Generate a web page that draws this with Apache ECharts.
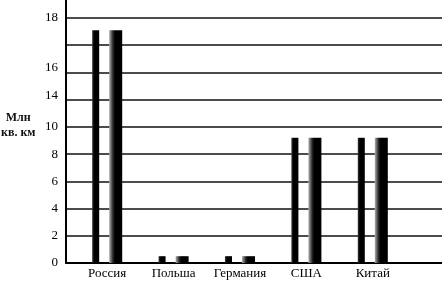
<!DOCTYPE html>
<html><head><meta charset="utf-8">
<script src="https://cdn.jsdelivr.net/npm/echarts@6/dist/echarts.min.js"></script>
<style>html,body{margin:0;padding:0;background:#fff}#c{width:442px;height:282px}</style>
</head><body><div id="c"></div>
<script>
var categories = ['Россия', 'Польша', 'Германия', 'США', 'Китай'];
// bar heights read on the drawn (equally spaced) axis scale
var valuesLeft = [17.1, 0.5, 0.5, 9.2, 9.2];
var valuesRight = [17.1, 0.5, 0.5, 9.2, 9.2];
// tick labels printed at the equally spaced gridlines 0,2,...,18
var tickLabels = ['0', '2', '4', '6', '8', '10', '14', '16', '', '18'];
var yTitle = 'Млн\nкв. км';

var serif = '"Liberation Serif", "DejaVu Serif", serif';
var chart = echarts.init(document.getElementById('c'), null, {renderer: 'canvas'});
chart.setOption({
  backgroundColor: '#fff',
  animation: false,
  grid: [
    {left: 74, right: 36, top: 18, bottom: 19},
    {left: 66, right: 0, top: 18, bottom: 19},
    {left: 66, right: 0, top: 0, bottom: 19}
  ],
  graphic: [{
    type: 'text', left: 1, top: 110,
    style: {text: yTitle, font: 'bold 12px ' + serif, fill: '#111', textAlign: 'center', lineHeight: 15}
  }],
  xAxis: [
    {gridIndex: 0, type: 'category', data: categories, boundaryGap: true,
     axisLine: {show: false}, axisTick: {show: false},
     axisLabel: {fontFamily: serif, fontSize: 13, color: '#000', margin: 4, interval: 0, hideOverlap: false}},
    {gridIndex: 1, type: 'value', min: 0, max: 1, show: true,
     axisLine: {show: true, onZero: false, lineStyle: {color: '#000', width: 2}},
     axisTick: {show: false}, axisLabel: {show: false}, splitLine: {show: false}},
    {gridIndex: 2, type: 'value', min: 0, max: 1, show: false}
  ],
  yAxis: [
    {gridIndex: 0, type: 'value', min: 0, max: 18, interval: 2, show: false},
    {gridIndex: 1, type: 'value', min: 0, max: 18, interval: 2,
     axisLine: {show: false}, axisTick: {show: false},
     splitLine: {show: true, lineStyle: {color: '#111', width: 1.6}},
     axisLabel: {fontFamily: serif, fontSize: 13, color: '#000', margin: 8,
       formatter: function (v) {
         var t = tickLabels[Math.round(v / 2)];
         if (t === '14' || t === '16') return '{up|' + t + '}';
         return t;
       },
       rich: {up: {fontFamily: serif, fontSize: 13, color: '#000', padding: [0, 0, 9, 0]}}}},
    {gridIndex: 2, type: 'value', min: 0, max: 1,
     axisLine: {show: true, lineStyle: {color: '#000', width: 2}},
     axisTick: {show: false}, axisLabel: {show: false}, splitLine: {show: false}}
  ],
  series: [
    {type: 'bar', xAxisIndex: 0, yAxisIndex: 0, data: valuesLeft, barWidth: 7, barGap: '143%',
     itemStyle: {color: {type: 'linear', x: 0, y: 0, x2: 1, y2: 0,
       colorStops: [{offset: 0, color: '#333'}, {offset: 0.3, color: '#000'}, {offset: 1, color: '#000'}]}}},
    {type: 'bar', xAxisIndex: 0, yAxisIndex: 0, data: valuesRight, barWidth: 13,
     itemStyle: {color: {type: 'linear', x: 0, y: 0, x2: 1, y2: 0,
       colorStops: [{offset: 0, color: '#b0b0b0'}, {offset: 0.3, color: '#222'}, {offset: 0.45, color: '#000'}, {offset: 1, color: '#000'}]}}}
  ]
});
</script></body></html>
